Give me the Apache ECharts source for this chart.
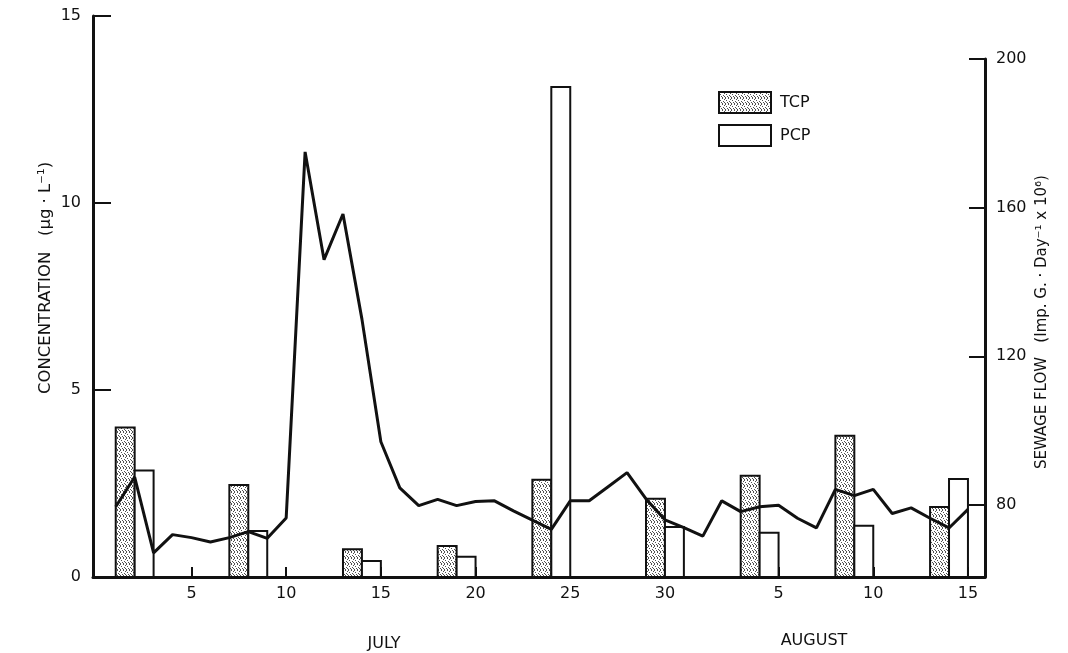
<!DOCTYPE html>
<html>
<head>
<meta charset="utf-8">
<title>TCP / PCP concentration and sewage flow</title>
<script src="https://cdn.jsdelivr.net/npm/echarts@6/dist/echarts.min.js"></script>
<style>
  html, body { margin: 0; padding: 0; background: #fff; }
  #chart { width: 1068px; height: 653px; }
</style>
</head>
<body>
<div id="chart"></div>
<script>
// Sampling days are counted from 1 July (1 August = day 32).
// Each bar covers one day, starting at the listed day.
const tcpDays   = [1, 7, 13, 18, 23, 29, 34, 39, 44];
const tcpValues = [4.0, 2.46, 0.74, 0.83, 2.60, 2.09, 2.71, 3.78, 1.87];
const pcpDays   = [2, 8, 14, 19, 24, 30, 35, 40, 45];
const pcpValues = [2.85, 1.23, 0.43, 0.54, 13.1, 1.34, 1.18, 1.37, 2.62];

// Daily sewage flow (Imp. G. per day x 10^6)
const flowDays = [1, 2, 3, 4, 5, 6, 7, 8, 9, 10, 11, 12, 13, 14, 15, 16, 17, 18, 19, 20, 21, 22, 23,
                  24, 25, 26, 27, 28, 29, 30, 31, 32, 33, 34, 35, 36, 37, 38, 39, 40, 41, 42, 43, 44, 45, 46];
const flowValues = [79.5, 87.5, 67.1, 72.0, 71.2, 70.0, 71.2, 72.8, 71.0, 76.5, 175.0, 146.0, 158.3, 130.0, 97.0,
                    84.6, 79.8, 81.5, 79.8, 80.9, 81.1, 78.4, 75.9, 73.4, 81.1, 81.1, 84.9, 88.7, 81.6, 76.0,
                    73.9, 71.6, 81.1, 78.2, 79.5, 79.9, 76.4, 73.8, 84.2, 82.5, 84.2, 77.7, 79.2, 76.4, 73.8, 78.8];

// Tick positions on the day axis and on the flow axis
const dayTicks  = [5, 10, 15, 20, 25, 30, 36, 41, 46];
const flowTicks = [80, 120, 160, 200];
const daysInJuly = 31;

const FONT = 'DejaVu Sans';
const INK = '#111';

// Fine dotted fill used for the TCP bars
function stipple() {
  const c = document.createElement('canvas');
  c.width = 6; c.height = 6;
  const g = c.getContext('2d');
  g.fillStyle = '#ffffff';
  g.fillRect(0, 0, 6, 6);
  g.fillStyle = '#505050';
  [[0, 0], [3, 0], [5, 1], [1, 2], [4, 3], [2, 4], [0, 5], [5, 4], [3, 5]]
    .forEach(([x, y]) => g.fillRect(x, y, 1, 1));
  return c;
}
const dots = { image: stipple(), repeat: 'repeat' };

const tcpStyle = { color: dots, borderColor: INK, borderWidth: 2 };
const pcpStyle = { color: '#ffffff', borderColor: INK, borderWidth: 2 };

// One-day-wide bar from [day, 0] to [day + 1, value]
function dayBar(style) {
  return function (params, api) {
    const d = api.value(0);
    const v = api.value(1);
    const p0 = api.coord([d, 0]);
    const p1 = api.coord([d + 1, v]);
    return {
      type: 'rect',
      shape: { x: p0[0], y: p1[1], width: p1[0] - p0[0], height: p0[1] - p1[1] },
      style: { fill: style.color, stroke: style.borderColor, lineWidth: style.borderWidth }
    };
  };
}

const chart = echarts.init(document.getElementById('chart'), null, { renderer: 'canvas' });

const axisLine = { show: true, onZero: false, lineStyle: { color: INK, width: 3 } };
const labelText = { fontFamily: FONT, fontSize: 16, color: INK };

chart.setOption({
  animation: false,
  backgroundColor: '#ffffff',
  grid: [
    { left: 93, right: 83, top: 16, bottom: 76 },
    { left: 93, right: 83, top: 59, bottom: 76 }
  ],
  legend: {
    orient: 'vertical',
    left: 718,
    top: 91,
    padding: 0,
    itemWidth: 52,
    itemHeight: 21,
    itemGap: 10,
    icon: 'rect',
    textStyle: { fontFamily: FONT, fontSize: 16, color: INK, padding: [0, 0, 0, 4] },
    data: [
      { name: 'TCP', itemStyle: tcpStyle },
      { name: 'PCP', itemStyle: pcpStyle }
    ]
  },
  xAxis: [
    {
      gridIndex: 0,
      type: 'value',
      min: -0.2,
      max: 46.9,
      axisLine: axisLine,
      splitLine: { show: false },
      axisTick: { show: true, inside: true, length: 10, customValues: dayTicks, lineStyle: { color: INK, width: 2 } },
      axisLabel: {
        customValues: dayTicks,
        margin: 9,
        ...labelText,
        formatter: v => String(v > daysInJuly ? v - daysInJuly : v)
      }
    },
    { gridIndex: 1, type: 'value', min: -0.2, max: 46.9, show: false }
  ],
  yAxis: [
    {
      gridIndex: 0,
      type: 'value',
      min: 0,
      max: 15,
      interval: 5,
      position: 'left',
      axisLine: axisLine,
      splitLine: { show: false },
      axisTick: { show: true, inside: true, length: 18, lineStyle: { color: INK, width: 2 } },
      axisLabel: { margin: 12, ...labelText }
    },
    {
      gridIndex: 1,
      type: 'value',
      min: 60.6,
      max: 200,
      position: 'right',
      axisLine: axisLine,
      splitLine: { show: false },
      axisTick: { show: true, inside: true, length: 16, customValues: flowTicks, lineStyle: { color: INK, width: 2 } },
      axisLabel: { customValues: flowTicks, margin: 11, ...labelText }
    }
  ],
  graphic: [
    {
      type: 'text', x: 46, y: 278, rotation: Math.PI / 2,
      style: { text: 'CONCENTRATION   (μg · L⁻¹)', fontFamily: FONT, fontSize: 16.5, fill: INK, align: 'center', verticalAlign: 'middle' }
    },
    {
      type: 'text', x: 1042, y: 322, rotation: Math.PI / 2,
      style: { text: 'SEWAGE FLOW   (Imp. G. · Day⁻¹ x 10⁶)', fontFamily: FONT, fontSize: 15, fill: INK, align: 'center', verticalAlign: 'middle' }
    },
    {
      type: 'text', x: 384, y: 644,
      style: { text: 'JULY', fontFamily: FONT, fontSize: 16, fill: INK, align: 'center', verticalAlign: 'middle' }
    },
    {
      type: 'text', x: 814, y: 641,
      style: { text: 'AUGUST', fontFamily: FONT, fontSize: 16, fill: INK, align: 'center', verticalAlign: 'middle' }
    }
  ],
  series: [
    {
      name: 'TCP',
      type: 'custom',
      xAxisIndex: 0,
      yAxisIndex: 0,
      itemStyle: tcpStyle,
      renderItem: dayBar(tcpStyle),
      data: tcpDays.map((d, i) => [d, tcpValues[i]]),
      z: 2
    },
    {
      name: 'PCP',
      type: 'custom',
      xAxisIndex: 0,
      yAxisIndex: 0,
      itemStyle: pcpStyle,
      renderItem: dayBar(pcpStyle),
      data: pcpDays.map((d, i) => [d, pcpValues[i]]),
      z: 2
    },
    {
      name: 'Sewage flow',
      type: 'line',
      xAxisIndex: 1,
      yAxisIndex: 1,
      symbol: 'none',
      lineStyle: { color: INK, width: 3 },
      data: flowDays.map((d, i) => [d, flowValues[i]]),
      z: 3
    }
  ]
});
</script>
</body>
</html>
